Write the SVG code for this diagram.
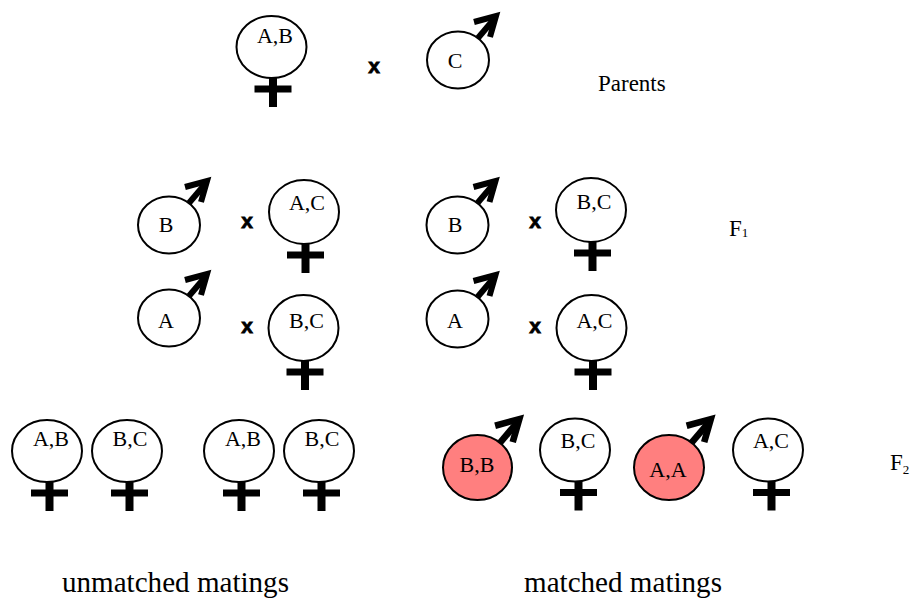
<svg xmlns="http://www.w3.org/2000/svg" xmlns:xlink="http://www.w3.org/1999/xlink" width="913" height="599" viewBox="0 0 913 599">
<style>
  .ring{fill:#ffffff;stroke:#000;stroke-width:2}
  .red{fill:#ff7f7f;stroke:#000;stroke-width:2}
  .lbl{font-family:"Liberation Serif","Times New Roman",serif;font-size:22px;fill:#000;text-anchor:middle}
  .big{font-family:"Liberation Serif","Times New Roman",serif;font-size:30px;fill:#000}
  .side{font-family:"Liberation Serif","Times New Roman",serif;font-size:23px;fill:#000}
  .x{font-family:"Liberation Sans",Arial,sans-serif;font-weight:bold;font-size:21px;fill:#000;stroke:#000;stroke-width:0.8;text-anchor:middle}
</style>
<defs>
  <g id="marr" stroke="#000" stroke-width="6" fill="none" stroke-linejoin="miter">
    <line x1="20" y1="-22" x2="37" y2="-42"/>
    <polyline points="16,-38 38,-44 32,-23"/>
  </g>
  <g id="fcross">
    <line x1="1.5" y1="0" x2="1.5" y2="29" stroke="#000" stroke-width="8"/>
    <line x1="-17" y1="11" x2="20" y2="11" stroke="#000" stroke-width="7"/>
  </g>
</defs>

<g id="parent-female-AB">
  <ellipse class="ring" cx="271.5" cy="47" rx="35" ry="31"/>
  <use xlink:href="#fcross" href="#fcross" transform="translate(271.5,78)"/>
  <text class="lbl" x="275" y="43">A,B</text>
</g>
<g id="parent-cross"><text class="x" x="374" y="73">x</text></g>
<g id="parent-male-C">
  <use xlink:href="#marr" href="#marr" transform="translate(458,60)"/>
  <ellipse class="ring" cx="458" cy="60" rx="31" ry="28.5"/>
  <text class="lbl" x="455" y="68">C</text>
</g>
<g id="label-parents"><text class="side" x="598" y="91">Parents</text></g>

<g id="f1-male-B-1">
  <use xlink:href="#marr" href="#marr" transform="translate(169,225)"/>
  <ellipse class="ring" cx="169" cy="225" rx="31" ry="28.5"/>
  <text class="lbl" x="166" y="232">B</text>
</g>
<g id="f1-x-1"><text class="x" x="247" y="228">x</text></g>
<g id="f1-female-AC-1">
  <ellipse class="ring" cx="304" cy="212" rx="35" ry="32"/>
  <use xlink:href="#fcross" href="#fcross" transform="translate(304,244)"/>
  <text class="lbl" x="307" y="210">A,C</text>
</g>

<g id="f1-male-B-2">
  <use xlink:href="#marr" href="#marr" transform="translate(457.5,225)"/>
  <ellipse class="ring" cx="457.5" cy="225" rx="31" ry="28.5"/>
  <text class="lbl" x="455" y="232">B</text>
</g>
<g id="f1-x-2"><text class="x" x="535" y="228">x</text></g>
<g id="f1-female-BC-2">
  <ellipse class="ring" cx="591" cy="210" rx="35" ry="32"/>
  <use xlink:href="#fcross" href="#fcross" transform="translate(591,242)"/>
  <text class="lbl" x="594" y="209">B,C</text>
</g>
<g id="label-f1"><text class="side" x="729" y="236" font-size="20">F<tspan font-size="13" dy="1">1</tspan></text></g>

<g id="f1-male-A-3">
  <use xlink:href="#marr" href="#marr" transform="translate(169,318)"/>
  <ellipse class="ring" cx="169" cy="318" rx="31" ry="28.5"/>
  <text class="lbl" x="166" y="328">A</text>
</g>
<g id="f1-x-3"><text class="x" x="247" y="333">x</text></g>
<g id="f1-female-BC-3">
  <ellipse class="ring" cx="303.5" cy="328" rx="35" ry="33"/>
  <use xlink:href="#fcross" href="#fcross" transform="translate(303.5,361)"/>
  <text class="lbl" x="306.5" y="328">B,C</text>
</g>

<g id="f1-male-A-4">
  <use xlink:href="#marr" href="#marr" transform="translate(457.5,319)"/>
  <ellipse class="ring" cx="457.5" cy="319" rx="31" ry="28.5"/>
  <text class="lbl" x="455" y="328">A</text>
</g>
<g id="f1-x-4"><text class="x" x="535" y="333">x</text></g>
<g id="f1-female-AC-4">
  <ellipse class="ring" cx="591.5" cy="328" rx="35" ry="33"/>
  <use xlink:href="#fcross" href="#fcross" transform="translate(591.5,361)"/>
  <text class="lbl" x="594.5" y="328">A,C</text>
</g>

<g id="f2-female-AB-1">
  <ellipse class="ring" cx="47" cy="451" rx="35" ry="31"/>
  <use xlink:href="#fcross" href="#fcross" transform="translate(48,482)"/>
  <text class="lbl" x="51" y="446">A,B</text>
</g>
<g id="f2-female-BC-1">
  <ellipse class="ring" cx="127" cy="451" rx="35" ry="31"/>
  <use xlink:href="#fcross" href="#fcross" transform="translate(128,482)"/>
  <text class="lbl" x="130" y="446">B,C</text>
</g>
<g id="f2-female-AB-2">
  <ellipse class="ring" cx="239" cy="451" rx="35" ry="31"/>
  <use xlink:href="#fcross" href="#fcross" transform="translate(240,482)"/>
  <text class="lbl" x="243" y="446">A,B</text>
</g>
<g id="f2-female-BC-2">
  <ellipse class="ring" cx="319" cy="451" rx="35" ry="31"/>
  <use xlink:href="#fcross" href="#fcross" transform="translate(320,482)"/>
  <text class="lbl" x="322" y="446">B,C</text>
</g>

<g id="f2-male-BB">
  <use xlink:href="#marr" href="#marr" transform="translate(477.5,467.5) scale(1.1)"/>
  <ellipse class="red" cx="477.5" cy="467.5" rx="34.5" ry="32.5"/>
  <text class="lbl" x="477" y="472">B,B</text>
</g>
<g id="f2-female-BC-3">
  <ellipse class="ring" cx="575" cy="450" rx="35" ry="31.5"/>
  <use xlink:href="#fcross" href="#fcross" transform="translate(577,481.5)"/>
  <text class="lbl" x="578" y="448">B,C</text>
</g>
<g id="f2-male-AA">
  <use xlink:href="#marr" href="#marr" transform="translate(669,467.5) scale(1.1)"/>
  <ellipse class="red" cx="669" cy="467.5" rx="35" ry="32.5"/>
  <text class="lbl" x="668" y="477">A,A</text>
</g>
<g id="f2-female-AC-4">
  <ellipse class="ring" cx="768" cy="450" rx="35" ry="31.5"/>
  <use xlink:href="#fcross" href="#fcross" transform="translate(770,481.5)"/>
  <text class="lbl" x="771" y="448">A,C</text>
</g>
<g id="label-f2"><text class="side" x="890" y="470" font-size="20">F<tspan font-size="13" dy="4">2</tspan></text></g>

<g id="labels-bottom">
  <text class="big" x="62" y="592" textLength="227" lengthAdjust="spacingAndGlyphs">unmatched matings</text>
  <text class="big" x="524" y="592" textLength="198" lengthAdjust="spacingAndGlyphs">matched matings</text>
</g>
<g id="connectors"/>
</svg>
